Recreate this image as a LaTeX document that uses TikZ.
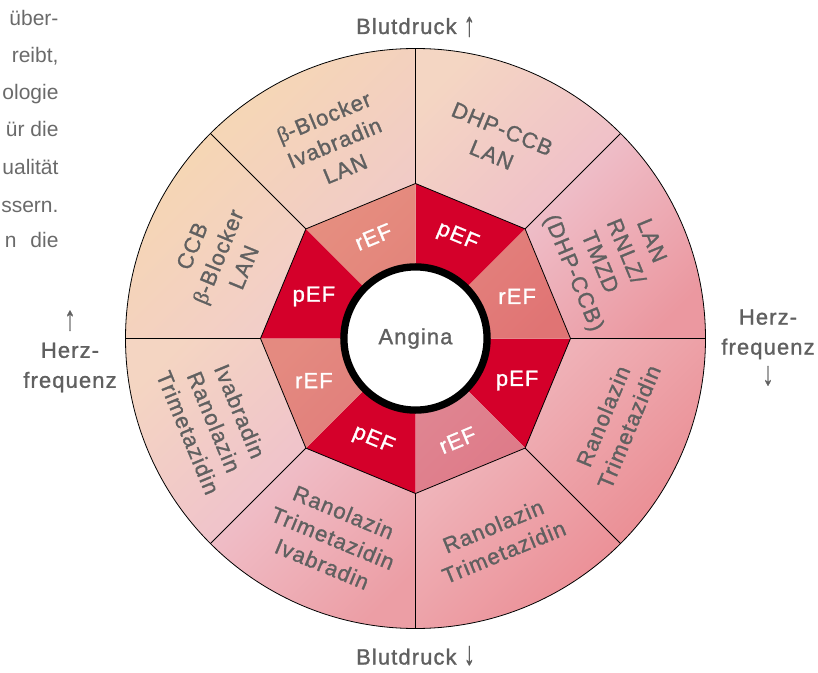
\documentclass[tikz,border=0pt]{standalone}
\usepackage{graphicx}
\usepackage{fontspec}
\setmainfont{Liberation Sans}[LetterSpace=5,FakeBold=1.2]
\setsansfont{Liberation Sans}
\newfontfamily\grkfont{Liberation Serif}[FakeBold=1.2]
\newcommand{\bet}{{\grkfont β}}
\newcommand{\uparr}{\raisebox{-2pt}{\scalebox{1}[1.55]{↑}}}
\newcommand{\downarr}{\raisebox{0pt}{\scalebox{1}[1.5]{↓}}}
\definecolor{txt}{HTML}{606060}
\definecolor{bodytxt}{HTML}{6A6A6A}
\definecolor{pef}{HTML}{D4002A}
\definecolor{sAt}{HTML}{EFC3CE}\definecolor{sAb}{HTML}{EB98A0}
\definecolor{sBt}{HTML}{F4D6C3}\definecolor{sBb}{HTML}{EFBDC9}
\definecolor{sCt}{HTML}{F6D8B4}\definecolor{sCb}{HTML}{F1CBC6}
\definecolor{sDt}{HTML}{F6D7B2}\definecolor{sDb}{HTML}{F2CEC8}
\definecolor{sEt}{HTML}{F4D5C2}\definecolor{sEb}{HTML}{EFC0CC}
\definecolor{sFt}{HTML}{F0C2CC}\definecolor{sFb}{HTML}{EC9EA5}
\definecolor{sGt}{HTML}{EFB3B9}\definecolor{sGb}{HTML}{EB8D94}
\definecolor{sHt}{HTML}{EFB1B7}\definecolor{sHb}{HTML}{EA8C92}
\definecolor{rAt}{HTML}{E4847E}\definecolor{rAb}{HTML}{E07474}
\definecolor{rBt}{HTML}{E68F80}\definecolor{rBb}{HTML}{E2827A}
\definecolor{rCt}{HTML}{E48A80}\definecolor{rCb}{HTML}{E07B7A}
\definecolor{rDt}{HTML}{E08894}\definecolor{rDb}{HTML}{DE7A88}
\tikzset{
  sectortext/.style={text=txt, align=center, font=\fontsize{22}{28}\selectfont},
  eflabel/.style={text=white, font=\fontsize{22}{26}\selectfont},
  sidelabel/.style={text=txt, align=center, font=\fontsize{22}{30}\selectfont},
  bodyline/.style={text=bodytxt, anchor=base east, font=\sffamily\fontsize{21}{24}\selectfont},
  divider/.style={draw=black, line width=0.8pt}
}
\begin{document}
\begin{tikzpicture}[x=1pt,y=1pt]
\useasboundingbox (-415.5pt,-333.5pt) rectangle (402.5pt,338.5pt);
% outer sectors
\foreach \a/\ct/\cb in {0/sAt/sAb,45/sBt/sBb,90/sCt/sCb,135/sDt/sDb,180/sEt/sEb,225/sFt/sFb,270/sGt/sGb,315/sHt/sHb}{
  \path[top color=\ct, bottom color=\cb, shading angle=45]
    (\a:155pt) -- (\a:290pt) arc[start angle=\a, end angle=\a+45, radius=290pt] -- ({\a+45}:155pt) -- cycle;
}
% inner octagon segments
\foreach \a in {45,135,225,315}{
  \fill[pef] (0,0) -- (\a:155pt) -- ({\a+45}:155pt) -- cycle;
}
\foreach \a/\ct/\cb in {0/rAt/rAb,90/rBt/rBb,180/rCt/rCb,270/rDt/rDb}{
  \path[top color=\ct, bottom color=\cb, shading angle=45] (0,0) -- (\a:155pt) -- ({\a+45}:155pt) -- cycle;
}
% lines
\draw[divider] (0,0) circle[radius=290pt];
\foreach \a in {0,45,...,315}{ \draw[divider] (\a:155pt) -- (\a:290pt); }
\draw[divider] (0:155pt) -- (45:155pt) -- (90:155pt) -- (135:155pt) -- (180:155pt) -- (225:155pt) -- (270:155pt) -- (315:155pt) -- cycle;
% centre
\draw[fill=white, draw=black, line width=7.3pt] (0,0) circle[radius=71.6pt];
\node[text=txt, font=\fontsize{22}{26}\selectfont] (angina) at (0,0) {Angina};
% EF labels
\node[eflabel, rotate=0] (ef0) at (22.5:110pt) {rEF};
\node[eflabel, rotate=-22.5] (ef1) at (67.5:110pt) {pEF};
\node[eflabel, rotate=22.5] (ef2) at (112.5:110pt) {rEF};
\node[eflabel, rotate=0] (ef3) at (157.5:110pt) {pEF};
\node[eflabel, rotate=0] (ef4) at (202.5:110pt) {rEF};
\node[eflabel, rotate=-22.5] (ef5) at (247.5:110pt) {pEF};
\node[eflabel, rotate=22.5] (ef6) at (292.5:110pt) {rEF};
\node[eflabel, rotate=0] (ef7) at (337.5:110pt) {pEF};
% sector texts
\node[sectortext, rotate=-67.5] (t0) at (22.5:212pt) {LAN\\RNLZ/\\TMZD\\(DHP-CCB)};
\node[sectortext, rotate=-22.5] (t1) at (67.5:213pt) {DHP-CCB\\LAN};
\node[sectortext, rotate=22.5] (t2) at (112.5:212pt) {\bet-Blocker\\Ivabradin\\LAN};
\node[sectortext, rotate=67.5] (t3) at (157.5:214pt) {CCB\\\bet-Blocker\\LAN};
\node[sectortext, rotate=-67.5] (t4) at (202.5:218pt) {Ivabradin\\Ranolazin\\Trimetazidin};
\node[sectortext, rotate=-22.5] (t5) at (247.5:216pt) {Ranolazin\\Trimetazidin\\Ivabradin};
\node[sectortext, rotate=22.5] (t6) at (292.5:217pt) {Ranolazin\\Trimetazidin};
\node[sectortext, rotate=67.5] (t7) at (337.5:217pt) {Ranolazin\\Trimetazidin};
% side labels
\node[text=txt, font=\fontsize{22}{26}\selectfont, anchor=base] (bdup) at (0,304.5pt) {Blutdruck \uparr};
\node[text=txt, font=\fontsize{22}{26}\selectfont, anchor=base] (bddown) at (0,-326pt) {Blutdruck \downarr};
\node[sidelabel] (hfright) at (352.5pt,-9pt) {Herz-\\frequenz\\\downarr};
\node[sidelabel] (hfleft) at (-345.5pt,-13pt) {\uparr\\Herz-\\frequenz};
% cropped body text
\node[bodyline] (b1) at (-353.5pt,312.5pt) {über-};
\node[bodyline] (b2) at (-353.5pt,275.5pt) {reibt,};
\node[bodyline] (b3) at (-353.5pt,238.5pt) {ologie};
\node[bodyline] (b4) at (-353.5pt,201.5pt) {ür die};
\node[bodyline] (b5) at (-353.5pt,163.5pt) {ualität};
\node[bodyline] (b6) at (-353.5pt,126.5pt) {ssern.};
\node[bodyline] (b7) at (-353.5pt,91.5pt) {n\hspace{14pt}die};
\end{tikzpicture}
\end{document}
